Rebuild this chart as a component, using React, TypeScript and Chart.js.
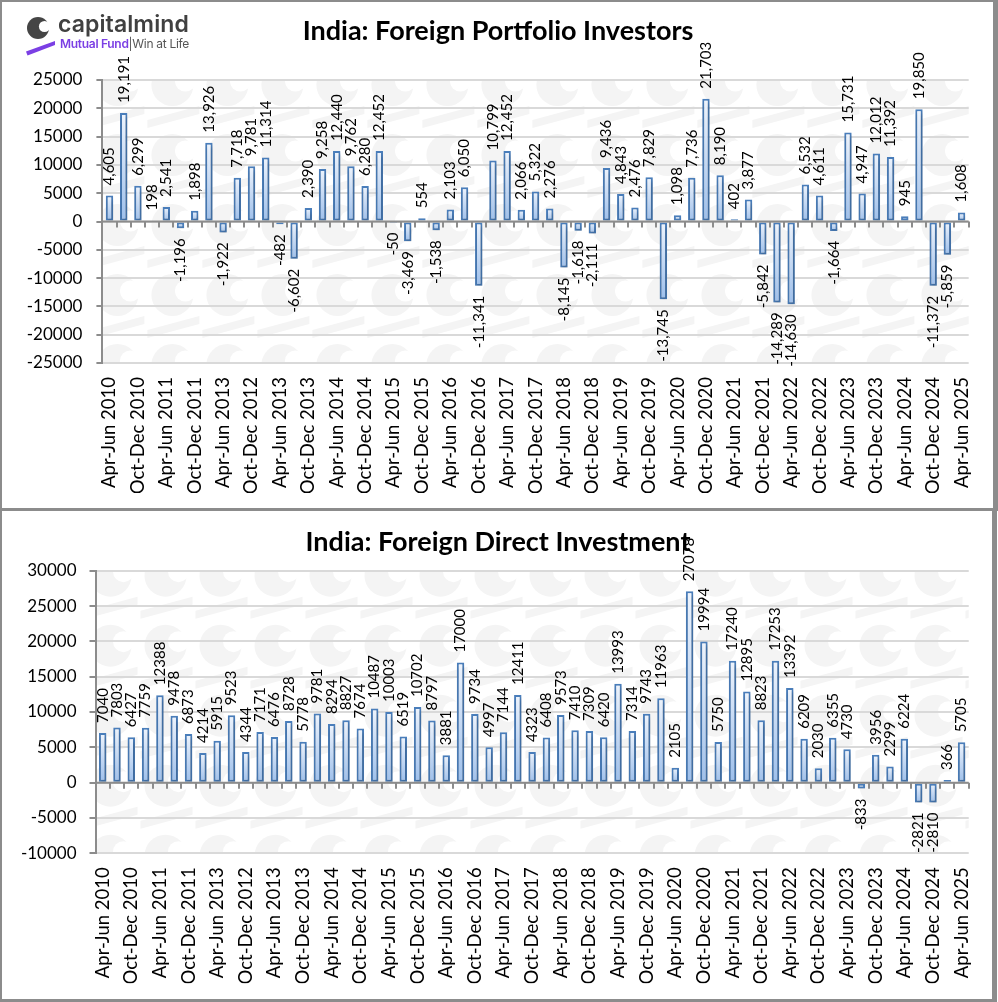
import React, { useEffect, useRef } from "react";
import { Chart, registerables } from "chart.js";

Chart.register(...registerables);

const FONT = "Lato, 'DejaVu Sans', sans-serif";

// Quarterly categories (every other one is printed on the axis, as in the source sheet)
const QUARTERS: string[] = [
  "Apr-Jun 2010", "Jul-Sep 2010", "Oct-Dec 2010", "Jan-Mar 2011",
  "Apr-Jun 2011", "Jul-Sep 2011", "Oct-Dec 2011", "Jan-Mar 2012",
  "Apr-Jun 2013", "Jul-Sep 2012", "Oct-Dec 2012", "Jan-Mar 2013",
  "Apr-Jun 2013", "Jul-Sep 2013", "Oct-Dec 2013", "Jan-Mar 2014",
  "Apr-Jun 2014", "Jul-Sep 2014", "Oct-Dec 2014", "Jan-Mar 2015",
  "Apr-Jun 2015", "Jul-Sep 2015", "Oct-Dec 2015", "Jan-Mar 2016",
  "Apr-Jun 2016", "Jul-Sep 2016", "Oct-Dec 2016", "Jan-Mar 2017",
  "Apr-Jun 2017", "Jul-Sep 2017", "Oct-Dec 2017", "Jan-Mar 2018",
  "Apr-Jun 2018", "Jul-Sep 2018", "Oct-Dec 2018", "Jan-Mar 2019",
  "Apr-Jun 2019", "Jul-Sep 2019", "Oct-Dec 2019", "Jan-Mar 2020",
  "Apr-Jun 2020", "Jul-Sep 2020", "Oct-Dec 2020", "Jan-Mar 2021",
  "Apr-Jun 2021", "Jul-Sep 2021", "Oct-Dec 2021", "Jan-Mar 2022",
  "Apr-Jun 2022", "Jul-Sep 2022", "Oct-Dec 2022", "Jan-Mar 2023",
  "Apr-Jun 2023", "Jul-Sep 2023", "Oct-Dec 2023", "Jan-Mar 2024",
  "Apr-Jun 2024", "Jul-Sep 2024", "Oct-Dec 2024", "Jan-Mar 2025",
  "Apr-Jun 2025",
];

// Net FPI flows, USD mn
const FPI_VALUES: number[] = [
  4605, 19191, 6299, 198, 2541, -1196, 1898, 13926, -1922, 7718,
  9781, 11314, -482, -6602, 2390, 9258, 12440, 9762, 6280, 12452,
  -50, -3469, 554, -1538, 2103, 6050, -11341, 10799, 12452, 2066,
  5322, 2276, -8145, -1618, -2111, 9436, 4843, 2476, 7829, -13745,
  1098, 7736, 21703, 8190, 402, 3877, -5842, -14289, -14630, 6532,
  4611, -1664, 15731, 4947, 12012, 11392, 945, 19850, -11372, -5859,
  1608,
];

// Net FDI flows, USD mn
const FDI_VALUES: number[] = [
  7040, 7803, 6427, 7759, 12388, 9478, 6873, 4214, 5915, 9523,
  4344, 7171, 6476, 8728, 5778, 9781, 8294, 8827, 7674, 10487,
  10003, 6519, 10702, 8797, 3881, 17000, 9734, 4997, 7144, 12411,
  4323, 6408, 9573, 7410, 7309, 6420, 13993, 7314, 9743, 11963,
  2105, 27078, 19994, 5750, 17240, 12895, 8823, 17253, 13392, 6209,
  2030, 6355, 4730, -833, 3956, 2299, 6224, -2821, -2810, 366,
  5705,
];

const FPI_Y = { min: -25000, max: 25000, step: 5000 };
const FDI_Y = { min: -10000, max: 30000, step: 5000 };

const FPI_TITLE = "India: Foreign Portfolio Investors";
const FDI_TITLE = "India: Foreign Direct Investment";

const withCommas = (v: number) => v.toLocaleString("en-US");
const plain = (v: number) => String(v);

// Faint brand pattern painted behind the plot area
const watermarkPlugin = {
  id: "watermark",
  beforeDraw(chart: any) {
    const { ctx, chartArea: a } = chart;
    if (!a) return;
    ctx.save();
    ctx.beginPath();
    ctx.rect(a.left, a.top, a.right - a.left, a.bottom - a.top);
    ctx.clip();
    const tone = "#f4f4f4";
    for (let y = a.top - 20; y < a.bottom + 70; y += 70) {
      for (let x = a.left - 12; x < a.right + 55; x += 55) {
        ctx.fillStyle = tone;
        ctx.beginPath();
        ctx.arc(x + 27, y + 25, 21, 0, Math.PI * 2);
        ctx.fill();
        ctx.fillStyle = "#ffffff";
        ctx.beginPath();
        ctx.arc(x + 40, y + 21, 10.5, 0, Math.PI * 2);
        ctx.fill();
        ctx.fillStyle = tone;
        ctx.beginPath();
        ctx.moveTo(x + 2, y + 60);
        ctx.lineTo(x + 54, y + 46);
        ctx.lineTo(x + 54, y + 54);
        ctx.lineTo(x + 2, y + 68);
        ctx.closePath();
        ctx.fill();
      }
    }
    ctx.restore();
  },
};

// Bar shadow, zero line with category ticks, and rotated value labels
const makeBarDecor = (values: number[], fmt: (v: number) => string) => ({
  id: "barDecor",
  beforeDatasetsDraw(chart: any) {
    const ctx = chart.ctx;
    ctx.save();
    ctx.shadowColor = "rgba(0,0,0,0.3)";
    ctx.shadowBlur = 4;
    ctx.shadowOffsetX = 1;
    ctx.shadowOffsetY = 3;
  },
  afterDatasetsDraw(chart: any) {
    const ctx = chart.ctx;
    ctx.restore();
    const { left, right } = chart.chartArea;
    const y0 = chart.scales.y.getPixelForValue(0);
    const n = chart.data.labels.length;
    const w = (right - left) / n;
    ctx.save();
    ctx.strokeStyle = "#8c8c8c";
    ctx.lineWidth = 2;
    ctx.beginPath();
    ctx.moveTo(left, y0);
    ctx.lineTo(right, y0);
    for (let i = 0; i <= n; i++) {
      const x = Math.round(left + i * w);
      ctx.moveTo(x, y0);
      ctx.lineTo(x, y0 + 6);
    }
    ctx.stroke();

    const meta = chart.getDatasetMeta(0);
    ctx.fillStyle = "#000";
    ctx.font = `15px ${FONT}`;
    ctx.textBaseline = "middle";
    meta.data.forEach((bar: any, i: number) => {
      const v = values[i];
      ctx.save();
      if (v >= 0) {
        ctx.translate(bar.x, Math.min(bar.y, bar.base) - 10);
        ctx.rotate(-Math.PI / 2);
        ctx.textAlign = "left";
      } else {
        ctx.translate(bar.x, Math.max(bar.y, bar.base) + 10);
        ctx.rotate(-Math.PI / 2);
        ctx.textAlign = "right";
      }
      ctx.fillText(fmt(v), 0, 0);
      ctx.restore();
    });
    ctx.restore();
  },
});

const barFill = (c: any) => {
  const chart = c.chart;
  const y = chart.scales && chart.scales.y;
  if (!y || c.type !== "data") return "#c5d9f1";
  const v = c.raw as number;
  const a = y.getPixelForValue(Math.max(v, 0));
  const b = y.getPixelForValue(Math.min(v, 0));
  if (!isFinite(a) || !isFinite(b) || Math.abs(a - b) < 0.5) return "#c5d9f1";
  const g = chart.ctx.createLinearGradient(0, a, 0, b);
  g.addColorStop(0, "#eef4fd");
  g.addColorStop(1, "#9dbfeb");
  return g;
};

function buildConfig(
  values: number[],
  yRange: { min: number; max: number; step: number },
  axisWidth: number,
  tickPad: number,
  padding: { top: number; right: number; bottom: number; left: number },
  fmt: (v: number) => string
): any {
  return {
    type: "bar",
    data: {
      labels: QUARTERS,
      datasets: [
        {
          data: values,
          backgroundColor: barFill,
          borderColor: "#4a7ebb",
          borderWidth: 2,
          borderSkipped: false,
          barPercentage: 0.52,
          categoryPercentage: 1,
        },
      ],
    },
    options: {
      responsive: false,
      animation: false,
      devicePixelRatio: 1,
      layout: { padding },
      plugins: {
        legend: { display: false },
        tooltip: { enabled: false },
        title: { display: false },
      },
      scales: {
        x: {
          grid: { display: false, drawTicks: false },
          border: { display: false },
          ticks: {
            autoSkip: false,
            maxRotation: 90,
            minRotation: 90,
            padding: 14,
            color: "#000",
            font: { family: FONT, size: 18.5 },
            callback: (_v: any, i: number) => (i % 2 === 0 ? QUARTERS[i] : ""),
          },
          afterFit: (s: any) => {
            s.height = 130;
          },
        },
        y: {
          min: yRange.min,
          max: yRange.max,
          ticks: {
            stepSize: yRange.step,
            padding: tickPad,
            color: "#000",
            font: { family: FONT, size: 17 },
            callback: (v: any) => String(v),
          },
          grid: {
            color: "#d9d9d9",
            lineWidth: 2,
            tickLength: 6,
            tickColor: "#8c8c8c",
            tickWidth: 2,
          },
          border: { color: "#8c8c8c", width: 2 },
          afterFit: (s: any) => {
            s.width = axisWidth;
          },
        },
      },
    },
    plugins: [watermarkPlugin, makeBarDecor(values, fmt)],
  };
}

const titleStyle = (top: number): React.CSSProperties => ({
  position: "absolute",
  left: 0,
  top,
  width: 996,
  textAlign: "center",
  fontFamily: FONT,
  fontWeight: 700,
  fontSize: 27,
  lineHeight: "30px",
  color: "#000",
  whiteSpace: "nowrap",
});

function Logo() {
  return (
    <div style={{ position: "absolute", left: 0, top: 0, width: 200, height: 60 }}>
      <svg width="60" height="60" style={{ position: "absolute", left: 0, top: 0 }}>
        <circle cx="38" cy="28" r="11" fill="#454545" />
        <circle cx="44.5" cy="26.5" r="5.6" fill="#ffffff" />
        <polygon points="26,51.5 55,41 55,45 27.5,55.5" fill="#7b3fe4" />
      </svg>
      <div
        style={{
          position: "absolute",
          left: 58,
          top: 11,
          fontFamily: "Inter, 'Noto Sans', sans-serif",
          fontWeight: 600,
          fontSize: 23,
          lineHeight: "27px",
          color: "#404040",
          letterSpacing: "0.1px",
          whiteSpace: "nowrap",
        }}
      >
        capitalmind
      </div>
      <div
        style={{
          position: "absolute",
          left: 60,
          top: 37,
          fontFamily: "Inter, 'Noto Sans', sans-serif",
          fontSize: 12,
          lineHeight: "14px",
          whiteSpace: "nowrap",
          letterSpacing: "-0.3px",
        }}
      >
        <span style={{ color: "#7b3fe4", fontWeight: 600 }}>Mutual Fund</span>
        <span style={{ color: "#555" }}>|Win at Life</span>
      </div>
    </div>
  );
}

export default function App() {
  const topRef = useRef<HTMLCanvasElement | null>(null);
  const botRef = useRef<HTMLCanvasElement | null>(null);

  useEffect(() => {
    if (!topRef.current || !botRef.current) return;
    const fpi = new Chart(
      topRef.current,
      buildConfig(FPI_VALUES, FPI_Y, 102.4, 14, { top: 80, right: 27, bottom: 15, left: 0 }, withCommas)
    );
    const fdi = new Chart(
      botRef.current,
      buildConfig(FDI_VALUES, FDI_Y, 95.5, 13, { top: 60.7, right: 26.8, bottom: 18.7, left: 0 }, plain)
    );
    return () => {
      fpi.destroy();
      fdi.destroy();
    };
  }, []);

  return (
    <div
      style={{
        position: "absolute",
        left: 0,
        top: 0,
        width: 998,
        height: 1002,
        background: "#fff",
        overflow: "hidden",
      }}
    >
      <canvas ref={topRef} width={998} height={508} style={{ position: "absolute", left: 0, top: 0 }} />
      <canvas ref={botRef} width={998} height={492} style={{ position: "absolute", left: 0, top: 510 }} />
      <div style={titleStyle(15)}>{FPI_TITLE}</div>
      <div style={titleStyle(526)}>{FDI_TITLE}</div>
      <Logo />
      <div
        style={{
          position: "absolute",
          left: 0,
          top: 0,
          width: 998,
          height: 511,
          boxSizing: "border-box",
          borderStyle: "solid",
          borderColor: "#8c8c8c",
          borderWidth: "2px 5px 3px 2px",
          pointerEvents: "none",
        }}
      />
      <div
        style={{
          position: "absolute",
          left: 0,
          top: 511,
          width: 997,
          height: 491,
          boxSizing: "border-box",
          borderStyle: "solid",
          borderColor: "#8c8c8c",
          borderWidth: "0 5px 3px 2px",
          pointerEvents: "none",
        }}
      />
    </div>
  );
}
